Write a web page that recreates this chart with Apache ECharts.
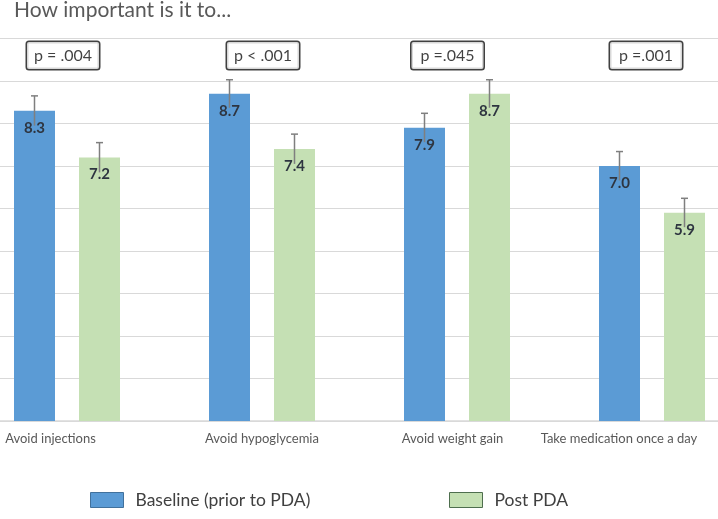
<!DOCTYPE html>
<html>
<head>
<meta charset="utf-8">
<script src="https://cdn.jsdelivr.net/npm/echarts@6/dist/echarts.min.js"></script>
<style>html,body{margin:0;padding:0;background:#fff}#c{width:718px;height:519px}</style>
</head>
<body>
<div id="c"></div>
<script>
const categories = ['Avoid injections', 'Avoid hypoglycemia', 'Avoid weight gain', 'Take medication once a day'];
const baseline = [8.3, 8.7, 7.9, 7.0];
const postPDA = [7.2, 7.4, 8.7, 5.9];
const baselineErr = [0.35, 0.33, 0.34, 0.34];
const postErr = [0.35, 0.35, 0.33, 0.34];
const pValues = ['p = .004', 'p < .001', 'p =.045', 'p =.001'];
const pLevel = 9.6;
const seriesNames = ['Baseline (prior to PDA)', 'Post PDA'];

const FONT = 'Lato';
const BAR_W = 41, GAP = 24;
const OFF = (BAR_W + GAP) / 2;
const labelShift = [-16.5, 0, -4.5, -33];
const boxShift = [-4, 1, -9.5, -6];

const chart = echarts.init(document.getElementById('c'));

function errSeries(vals, errs, dx) {
  return {
    type: 'custom',
    z: 5,
    silent: true,
    clip: false,
    data: vals.map((v, i) => [i, v, errs[i]]),
    renderItem: function (params, api) {
      const i = api.value(0), v = api.value(1), e = api.value(2);
      const c = api.coord([i, v]);
      const x = c[0] + dx;
      const yTop = api.coord([i, v + e])[1];
      const yBot = api.coord([i, v - e])[1];
      return {
        type: 'group',
        children: [
          { type: 'line', shape: { x1: x, y1: yBot, x2: x, y2: yTop }, style: { stroke: '#7F7F7F', lineWidth: 1.5 } },
          { type: 'line', shape: { x1: x - 3.5, y1: yTop, x2: x + 3.5, y2: yTop }, style: { stroke: '#7F7F7F', lineWidth: 1.5 } },
          { type: 'text', x: x, y: c[1] + 17, style: { text: v.toFixed(1), fill: '#2E3540', font: 'bold 15px ' + FONT, align: 'center', verticalAlign: 'middle' } }
        ]
      };
    }
  };
}

const rich = {};
labelShift.forEach((s, i) => {
  rich['l' + i] = { fontFamily: FONT, fontSize: 13, color: '#595959',
    padding: s < 0 ? [0, -2 * s, 0, 0] : [0, 0, 0, 2 * s] };
});

const legendBase = {
  top: 491, padding: 0,
  itemWidth: 33, itemHeight: 15,
  icon: 'rect',
  textStyle: { fontFamily: FONT, fontSize: 17.5, color: '#404040', padding: [0, 0, 0, 7] }
};

chart.setOption({
  animation: false,
  title: {
    text: 'How important is it to...',
    left: 14, top: 0, padding: 0,
    textStyle: { fontFamily: FONT, fontSize: 21, fontWeight: 'normal', color: '#595959' }
  },
  legend: [
    Object.assign({}, legendBase, { left: 90,
      data: [{ name: seriesNames[0], itemStyle: { color: '#5B9BD5', borderColor: '#41719C', borderWidth: 1 } }] }),
    Object.assign({}, legendBase, { left: 449,
      data: [{ name: seriesNames[1], itemStyle: { color: '#C5E0B4', borderColor: '#4E6E4E', borderWidth: 1 } }] })
  ],
  grid: { left: -30.5, width: 780, top: 38.5, bottom: 98, outerBoundsMode: 'none', containLabel: false },
  xAxis: {
    type: 'category',
    data: categories,
    axisLine: { lineStyle: { color: '#D9D9D9', width: 1.5 } },
    axisTick: { show: false },
    axisLabel: {
      interval: 0, margin: 11, hideOverlap: false,
      formatter: (v, i) => '{l' + i + '|' + v + '}',
      rich: rich
    }
  },
  yAxis: {
    type: 'value', min: 1, max: 10, interval: 1,
    axisLabel: { show: false }, axisLine: { show: false }, axisTick: { show: false },
    splitLine: { lineStyle: { color: '#D9D9D9', width: 1 } }
  },
  series: [
    { name: seriesNames[0], type: 'bar', data: baseline, barWidth: BAR_W, barGap: (GAP / BAR_W * 100) + '%',
      itemStyle: { color: '#5B9BD5' }, z: 2 },
    { name: seriesNames[1], type: 'bar', data: postPDA, barWidth: BAR_W,
      itemStyle: { color: '#C5E0B4' }, z: 2 },
    errSeries(baseline, baselineErr, -OFF),
    errSeries(postPDA, postErr, OFF),
    {
      type: 'scatter', symbolSize: 0, silent: true, z: 6,
      data: pValues.map((p, i) => ({
        value: [i, pLevel], name: p,
        label: { offset: [boxShift[i], 0] }
      })),
      label: {
        show: true, position: 'inside',
        formatter: (d) => d.name,
        fontFamily: FONT, fontSize: 16, color: '#111',
        backgroundColor: '#fff', borderColor: '#111', borderWidth: 1.5, borderRadius: 2,
        width: 72, height: 27, lineHeight: 27, align: 'center', verticalAlign: 'middle'
      }
    }
  ]
});
</script>
</body>
</html>
